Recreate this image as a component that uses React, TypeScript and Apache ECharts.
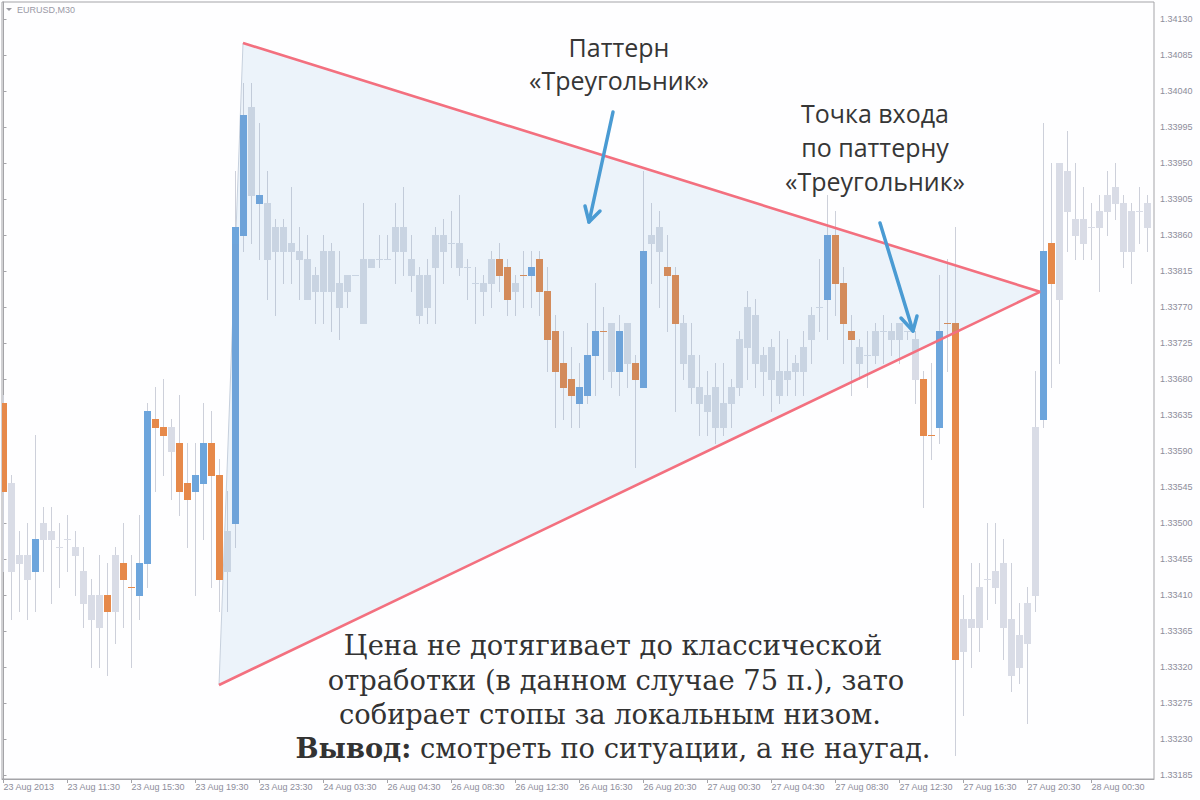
import React, { useEffect, useRef } from "react";
import * as echarts from "echarts";

// ---- data (EURUSD M30) ----
const opens = [
  1.3365, 1.3355, 1.3345, 1.3346, 1.3344, 1.3348, 1.3349, 1.3347, 1.3348, 1.3347,
  1.3344, 1.3341, 1.3337, 1.3341, 1.3339, 1.3345, 1.3342, 1.3341, 1.3345, 1.3363,
  1.3362, 1.3362, 1.3360, 1.3355, 1.3354, 1.3355, 1.3360, 1.3356, 1.3344, 1.3350,
  1.3386, 1.3402, 1.3390, 1.3390, 1.3384, 1.3387, 1.3384, 1.3384, 1.3383, 1.3379,
  1.3379, 1.3384, 1.3380, 1.3379, 1.3381, 1.3375, 1.3382, 1.3383, 1.3383, 1.3384,
  1.3387, 1.3383, 1.3381, 1.3377, 1.3382, 1.3386, 1.3385, 1.3385, 1.3382, 1.3380,
  1.3379, 1.3380, 1.3383, 1.3382, 1.3379, 1.3381, 1.3381, 1.3383, 1.3379, 1.3374,
  1.3370, 1.3368, 1.3365, 1.3366, 1.3371, 1.3374, 1.3369, 1.3369, 1.3375, 1.3370,
  1.3367, 1.3385, 1.3384, 1.3382, 1.3381, 1.3375, 1.3371, 1.3367, 1.3364, 1.3367,
  1.3362, 1.3365, 1.3367, 1.3372, 1.3376, 1.3369, 1.3372, 1.3366, 1.3368, 1.3369,
  1.3369, 1.3373, 1.3377, 1.3378, 1.3386, 1.3380, 1.3374, 1.3372, 1.3371, 1.3371,
  1.3374, 1.3373, 1.3373, 1.3374, 1.3373, 1.3368, 1.3361, 1.3362, 1.3375, 1.3375,
  1.3334, 1.3338, 1.3337, 1.3343, 1.3342, 1.3345, 1.3338, 1.3332, 1.3335, 1.3341,
  1.3363, 1.3385, 1.3378, 1.3389, 1.3388, 1.3385, 1.3387, 1.3387, 1.3389, 1.3390,
  1.3390, 1.3384, 1.3389, 1.3387,
];
const highs = [
  1.3366, 1.3356, 1.3349, 1.3350, 1.3361, 1.3352, 1.3352, 1.3350, 1.3351, 1.3349,
  1.3347, 1.3343, 1.3346, 1.3345, 1.3347, 1.3350, 1.3346, 1.3351, 1.3365, 1.3367,
  1.3368, 1.3363, 1.3366, 1.3360, 1.3360, 1.3365, 1.3364, 1.3358, 1.3354, 1.3394,
  1.3405, 1.3405, 1.3400, 1.3394, 1.3388, 1.3388, 1.3392, 1.3387, 1.3386, 1.3382,
  1.3386, 1.3385, 1.3384, 1.3381, 1.3381, 1.3390, 1.3383, 1.3386, 1.3386, 1.3390,
  1.3392, 1.3386, 1.3382, 1.3383, 1.3387, 1.3388, 1.3389, 1.3391, 1.3383, 1.3382,
  1.3381, 1.3384, 1.3385, 1.3383, 1.3381, 1.3384, 1.3384, 1.3384, 1.3382, 1.3376,
  1.3374, 1.3372, 1.3370, 1.3375, 1.3380, 1.3377, 1.3375, 1.3376, 1.3375, 1.3371,
  1.3394, 1.3390, 1.3389, 1.3386, 1.3382, 1.3376, 1.3375, 1.3371, 1.3369, 1.3370,
  1.3370, 1.3368, 1.3374, 1.3379, 1.3378, 1.3372, 1.3373, 1.3374, 1.3373, 1.3371,
  1.3374, 1.3377, 1.3383, 1.3391, 1.3389, 1.3382, 1.3376, 1.3373, 1.3374, 1.3375,
  1.3376, 1.3375, 1.3375, 1.3374, 1.3374, 1.3369, 1.3370, 1.3381, 1.3383, 1.3387,
  1.3341, 1.3345, 1.3345, 1.3350, 1.3350, 1.3348, 1.3345, 1.3340, 1.3342, 1.3369,
  1.3400, 1.3395, 1.3395, 1.3399, 1.3395, 1.3392, 1.3390, 1.3391, 1.3394, 1.3395,
  1.3391, 1.3390, 1.3392, 1.3391,
];
const lows = [
  1.3344, 1.3338, 1.3339, 1.3338, 1.3339, 1.3344, 1.3340, 1.3342, 1.3344, 1.3341,
  1.3337, 1.3332, 1.3332, 1.3331, 1.3335, 1.3337, 1.3332, 1.3338, 1.3342, 1.3354,
  1.3356, 1.3353, 1.3351, 1.3347, 1.3341, 1.3348, 1.3342, 1.3339, 1.3339, 1.3347,
  1.3384, 1.3385, 1.3383, 1.3378, 1.3376, 1.3380, 1.3380, 1.3378, 1.3378, 1.3375,
  1.3375, 1.3374, 1.3373, 1.3377, 1.3381, 1.3375, 1.3382, 1.3382, 1.3383, 1.3380,
  1.3381, 1.3379, 1.3375, 1.3375, 1.3375, 1.3380, 1.3382, 1.3381, 1.3378, 1.3375,
  1.3376, 1.3377, 1.3379, 1.3376, 1.3376, 1.3377, 1.3377, 1.3376, 1.3369, 1.3362,
  1.3363, 1.3362, 1.3362, 1.3365, 1.3366, 1.3368, 1.3367, 1.3366, 1.3367, 1.3357,
  1.3367, 1.3380, 1.3377, 1.3374, 1.3364, 1.3368, 1.3365, 1.3361, 1.3361, 1.3360,
  1.3361, 1.3362, 1.3366, 1.3368, 1.3367, 1.3366, 1.3364, 1.3365, 1.3366, 1.3366,
  1.3366, 1.3370, 1.3374, 1.3373, 1.3376, 1.3370, 1.3366, 1.3368, 1.3367, 1.3370,
  1.3370, 1.3371, 1.3370, 1.3373, 1.3365, 1.3352, 1.3358, 1.3360, 1.3369, 1.3321,
  1.3326, 1.3332, 1.3334, 1.3338, 1.3340, 1.3333, 1.3329, 1.3330, 1.3325, 1.3339,
  1.3362, 1.3367, 1.3370, 1.3384, 1.3383, 1.3383, 1.3383, 1.3379, 1.3386, 1.3388,
  1.3382, 1.3380, 1.3385, 1.3384,
];
const closes = [
  1.3354, 1.3344, 1.3346, 1.3343, 1.3348, 1.3350, 1.3348, 1.3347, 1.3348, 1.3346,
  1.3340, 1.3338, 1.3341, 1.3339, 1.3346, 1.3343, 1.3342, 1.3345, 1.3364, 1.3362,
  1.3361, 1.3359, 1.3354, 1.3353, 1.3356, 1.3360, 1.3356, 1.3343, 1.3349, 1.3387,
  1.3401, 1.3391, 1.3391, 1.3383, 1.3387, 1.3384, 1.3385, 1.3383, 1.3378, 1.3381,
  1.3384, 1.3379, 1.3377, 1.3381, 1.3381, 1.3383, 1.3383, 1.3383, 1.3383, 1.3387,
  1.3384, 1.3381, 1.3376, 1.3381, 1.3386, 1.3384, 1.3385, 1.3382, 1.3382, 1.3380,
  1.3380, 1.3383, 1.3381, 1.3378, 1.3380, 1.3381, 1.3382, 1.3379, 1.3373, 1.3369,
  1.3367, 1.3366, 1.3367, 1.3371, 1.3374, 1.3374, 1.3375, 1.3374, 1.3370, 1.3368,
  1.3384, 1.3386, 1.3387, 1.3381, 1.3375, 1.3370, 1.3367, 1.3365, 1.3366, 1.3362,
  1.3365, 1.3367, 1.3373, 1.3377, 1.3370, 1.3371, 1.3368, 1.3369, 1.3369, 1.3370,
  1.3372, 1.3376, 1.3377, 1.3386, 1.3380, 1.3375, 1.3373, 1.3370, 1.3371, 1.3374,
  1.3374, 1.3374, 1.3375, 1.3374, 1.3368, 1.3361, 1.3361, 1.3374, 1.3375, 1.3333,
  1.3338, 1.3337, 1.3342, 1.3343, 1.3344, 1.3337, 1.3331, 1.3336, 1.3340, 1.3362,
  1.3384, 1.3380, 1.3395, 1.3394, 1.3386, 1.3388, 1.3387, 1.3389, 1.3391, 1.3392,
  1.3384, 1.3389, 1.3389, 1.3390,
];
// bars coloured on the original chart (blue = up, orange = down)
const highlighted = [
  0, 4, 13, 15, 16, 17, 18, 19, 20, 22, 23, 24, 25, 26, 27, 29, 30, 32,
  62, 63, 65, 66, 67, 68, 69, 70, 71, 72, 73, 74, 75, 77, 79, 80, 83, 84,
  103, 104, 105, 106, 115, 116, 117, 118, 119, 130, 131,
];
const xTickLabels = [
  "23 Aug 2013", "23 Aug 11:30", "23 Aug 15:30", "23 Aug 19:30", "23 Aug 23:30",
  "24 Aug 03:30", "26 Aug 04:30", "26 Aug 08:30", "26 Aug 12:30", "26 Aug 16:30",
  "26 Aug 20:30", "27 Aug 00:30", "27 Aug 04:30", "27 Aug 08:30", "27 Aug 12:30",
  "27 Aug 16:30", "27 Aug 20:30", "28 Aug 00:30",
];
const barsPerXTick = 8;
const yTickValues = [
  1.3413, 1.34085, 1.3404, 1.33995, 1.3395, 1.33905, 1.3386, 1.33815, 1.3377, 1.33725,
  1.3368, 1.33635, 1.3359, 1.33545, 1.335, 1.33455, 1.3341, 1.33365, 1.3332, 1.33275,
  1.3323, 1.33185,
];
// triangle pattern: vertices as [bar index, price]
const triangleBars = [29.94, 129.56, 26.94];
const trianglePrices = [1.341, 1.33789, 1.332975];

// colours outside / inside the triangle
const GREY = "#d9dce6";
const GREY_IN = "#c9d4e2";
const WICK = "#cdd0da";
const WICK_IN = "#c2cbd9";
const BLUE = "#6da5dc";
const BLUE_IN = "#6ea3d9";
const ORANGE = "#e6894a";
const ORANGE_IN = "#d38b5b";
const TRI_FILL = "#ecf3fa";
const TEXT_FONT = '"Open Sans", sans-serif';
const NOTE_FONT = '"DejaVu Serif", serif';

function triRange(x: number, pts: number[][]): number[] | null {
  const ys: number[] = [];
  for (let i = 0; i < pts.length; i++) {
    const a = pts[i];
    const b = pts[(i + 1) % pts.length];
    const x0 = Math.min(a[0], b[0]);
    const x1 = Math.max(a[0], b[0]);
    if (x1 > x0 && x >= x0 && x <= x1) {
      const t = (x - a[0]) / (b[0] - a[0]);
      ys.push(a[1] + t * (b[1] - a[1]));
    }
  }
  if (ys.length < 2) return null;
  return [Math.min(...ys), Math.max(...ys)];
}

function splitRect(
  out: any[], x: number, w: number, y0: number, y1: number,
  r: number[] | null, cOut: string, cIn: string,
) {
  const push = (a: number, b: number, c: string) => {
    if (b > a) out.push({ type: "rect", shape: { x, y: a, width: w, height: b - a }, style: { fill: c } });
  };
  if (!r) { push(y0, y1, cOut); return; }
  const a = Math.round(r[0]);
  const b = Math.round(r[1]);
  const p1 = Math.min(y1, Math.max(y0, a));
  const p2 = Math.min(y1, Math.max(y0, b));
  push(y0, p1, cOut);
  push(p1, p2, cIn);
  push(p2, y1, cOut);
}

export default function App() {
  const ref = useRef<HTMLDivElement>(null);

  useEffect(() => {
    if (!ref.current) return;
    const chart = echarts.init(ref.current, undefined, { renderer: "svg" });
    const candleData = opens.map((o, i) => [
      i, o, closes[i], lows[i], highs[i], highlighted.includes(i) ? 1 : 0,
    ]);
    const xTickValues = xTickLabels.map((_, i) => i * barsPerXTick);
    const triPoints = triangleBars.map((b, i) => [b, trianglePrices[i]]);

    const axisCol = "#a4a4a8";
    const labelCol = "#8d8d9b";
    const centered = { align: "center", textAlign: "center", verticalAlign: "middle", textVerticalAlign: "middle" };

    const option: any = {
      animation: false,
      backgroundColor: "#fefeff",
      grid: {
        left: 2, top: 2, right: 46, bottom: 21,
        show: true, borderColor: axisCol, borderWidth: 1, backgroundColor: "transparent",
      },
      xAxis: {
        type: "value",
        min: -0.1875,
        max: 143.8125,
        axisLine: { show: true, lineStyle: { color: axisCol, width: 1 } },
        axisTick: { show: true, customValues: xTickValues, length: 4, lineStyle: { color: axisCol } },
        axisLabel: {
          customValues: xTickValues,
          formatter: (v: number) => xTickLabels[Math.round(v / barsPerXTick)] ?? "",
          align: "left",
          margin: 3,
          color: labelCol,
          fontSize: 9,
          fontFamily: "Liberation Sans, Arial, sans-serif",
        },
        splitLine: { show: false },
      },
      yAxis: {
        type: "value",
        position: "right",
        min: 1.3318,
        max: 1.3415125,
        axisLine: { show: true, lineStyle: { color: axisCol, width: 1 } },
        axisTick: { show: true, customValues: yTickValues, length: 3, lineStyle: { color: axisCol } },
        axisLabel: {
          customValues: yTickValues,
          formatter: (v: number) => v.toFixed(5),
          margin: 6,
          color: labelCol,
          fontSize: 9,
          fontFamily: "Liberation Sans, Arial, sans-serif",
        },
        splitLine: { show: false },
      },
      series: [
        {
          type: "custom",
          name: "triangle-fill",
          data: [triPoints[0]],
          clip: true,
          silent: true,
          z: 1,
          renderItem: (_p: any, api: any) => {
            const pts = triPoints.map((p) => api.coord(p));
            return {
              type: "polygon",
              shape: { points: pts },
              style: { fill: TRI_FILL, stroke: "#c6d0dd", lineWidth: 1 },
            };
          },
        },
        {
          type: "custom",
          name: "EURUSD",
          data: candleData,
          clip: true,
          silent: true,
          z: 2,
          encode: { x: 0, y: [1, 2, 3, 4] },
          renderItem: (_p: any, api: any) => {
            const k = api.value(0);
            const o = api.value(1);
            const c = api.value(2);
            const l = api.value(3);
            const h = api.value(4);
            const hl = api.value(5);
            const pO = api.coord([k, o]);
            const pC = api.coord([k, c]);
            const pL = api.coord([k, l]);
            const pH = api.coord([k, h]);
            const wx = Math.round(pO[0] - 0.5);
            const yTop = Math.round(Math.min(pO[1], pC[1]));
            const yBot = Math.round(Math.max(pO[1], pC[1]));
            const wTop = Math.round(pH[1]);
            const wBot = Math.round(pL[1]);
            const up = c > o;
            const col = hl ? (up ? BLUE : ORANGE) : GREY;
            const colIn = hl ? (up ? BLUE_IN : ORANGE_IN) : GREY_IN;
            const tri = triPoints.map((p) => api.coord(p));
            const r = triRange(wx + 0.5, tri);
            const children: any[] = [];
            splitRect(children, wx, 1, wTop, wBot + 1, r, WICK, WICK_IN);
            splitRect(children, wx - 3, 7, yTop, yBot + 1, r, col, colIn);
            return { type: "group", children };
          },
        },
        {
          type: "line",
          name: "triangle",
          data: triPoints,
          symbol: "none",
          silent: true,
          z: 4,
          lineStyle: { color: "#f3707f", width: 2.6 },
        },
      ],
      graphic: [
        {
          type: "polygon", z: 100, silent: true,
          shape: { points: [[6, 8], [12, 8], [9, 11]] },
          style: { fill: "#9a9aa2" },
        },
        {
          type: "text", z: 100, silent: true, x: 17, y: 10,
          style: { text: "EURUSD,M30", fill: "#9a9aa6", font: "9px Liberation Sans, Arial, sans-serif", verticalAlign: "middle", textVerticalAlign: "middle" },
        },
        // annotation: pattern
        {
          type: "text", z: 100, silent: true, x: 619, y: 47,
          style: { text: "Паттерн", fill: "#363636", font: `25px ${TEXT_FONT}`, ...centered },
        },
        {
          type: "text", z: 100, silent: true, x: 619, y: 80,
          style: { text: "«Треугольник»", fill: "#363636", font: `25px ${TEXT_FONT}`, ...centered },
        },
        // annotation: entry point
        {
          type: "text", z: 100, silent: true, x: 875, y: 113,
          style: { text: "Точка входа", fill: "#363636", font: `25px ${TEXT_FONT}`, ...centered },
        },
        {
          type: "text", z: 100, silent: true, x: 875, y: 147,
          style: { text: "по паттерну", fill: "#363636", font: `25px ${TEXT_FONT}`, ...centered },
        },
        {
          type: "text", z: 100, silent: true, x: 875, y: 181,
          style: { text: "«Треугольник»", fill: "#363636", font: `25px ${TEXT_FONT}`, ...centered },
        },
        // arrows
        {
          type: "polyline", z: 100, silent: true,
          shape: { points: [[613, 112], [589, 222]] },
          style: { stroke: "#4a9bd3", lineWidth: 3.5, lineCap: "round", lineJoin: "round", fill: "none" },
        },
        {
          type: "polyline", z: 100, silent: true,
          shape: { points: [[585, 206], [589, 222], [600, 211]] },
          style: { stroke: "#4a9bd3", lineWidth: 3.5, lineCap: "round", lineJoin: "round", fill: "none" },
        },
        {
          type: "polyline", z: 100, silent: true,
          shape: { points: [[880, 223], [913, 331]] },
          style: { stroke: "#4a9bd3", lineWidth: 3.5, lineCap: "round", lineJoin: "round", fill: "none" },
        },
        {
          type: "polyline", z: 100, silent: true,
          shape: { points: [[901, 318], [913, 331], [917, 316]] },
          style: { stroke: "#4a9bd3", lineWidth: 3.5, lineCap: "round", lineJoin: "round", fill: "none" },
        },
        // bottom note
        {
          type: "text", z: 100, silent: true, x: 613, y: 645,
          style: { text: "Цена не дотягивает до классической", fill: "#333333", font: `27.3px ${NOTE_FONT}`, ...centered },
        },
        {
          type: "text", z: 100, silent: true, x: 616, y: 680,
          style: { text: "отработки (в данном случае 75 п.), зато", fill: "#333333", font: `27.3px ${NOTE_FONT}`, ...centered },
        },
        {
          type: "text", z: 100, silent: true, x: 610, y: 714,
          style: { text: "собирает стопы за локальным низом.", fill: "#333333", font: `27.3px ${NOTE_FONT}`, ...centered },
        },
        {
          type: "text", z: 100, silent: true, x: 613, y: 748,
          style: {
            text: "{b|Вывод:} смотреть по ситуации, а не наугад.",
            fill: "#333333", font: `27.3px ${NOTE_FONT}`,
            ...centered,
            rich: { b: { fontWeight: "bold", fontSize: 27.3, fontFamily: NOTE_FONT, fill: "#333333" } },
          },
        },
      ],
    };
    chart.setOption(option);

    return () => {
      chart.dispose();
    };
  }, []);

  return (
    <div
      ref={ref}
      style={{ position: "fixed", left: 0, top: 0, width: 1200, height: 800 }}
    />
  );
}
